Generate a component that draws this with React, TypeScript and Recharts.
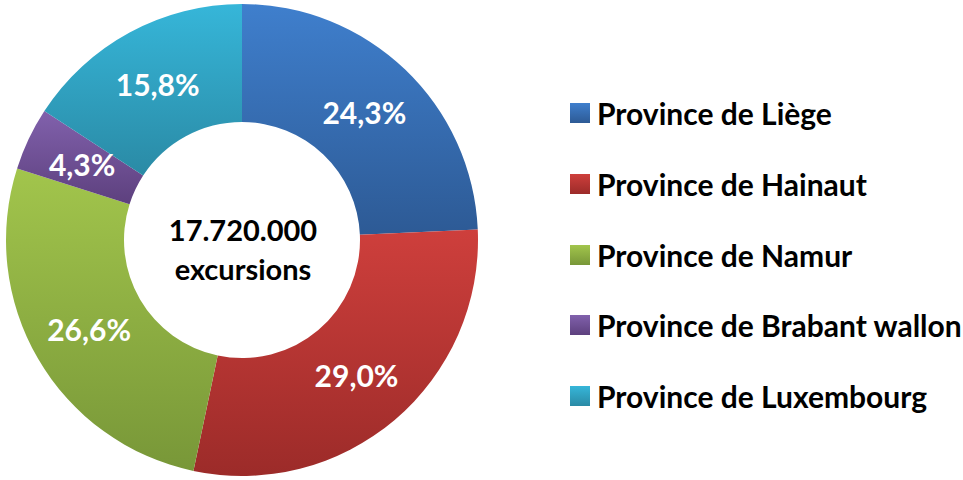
import React from 'react';
import { PieChart, Pie, Cell, Legend } from 'recharts';

const categories = [
  'Province de Liège',
  'Province de Hainaut',
  'Province de Namur',
  'Province de Brabant wallon',
  'Province de Luxembourg',
];
const shares = [24.3, 29.0, 26.6, 4.3, 15.8];
const labels = ['24,3%', '29,0%', '26,6%', '4,3%', '15,8%'];
const totalLine1 = '17.720.000';
const totalLine2 = 'excursions';

const topColors = ['#3F7FCD', '#CE3F3C', '#A2C54C', '#8161AC', '#36B6D9'];
const bottomColors = ['#2D5A95', '#9C2B29', '#789738', '#5D407E', '#2A8AA5'];

const data = categories.map((name, i) => ({ name, value: shares[i], label: labels[i] }));

const FONT = 'Lato, Carlito, Calibri, sans-serif';
const RAD = Math.PI / 180;

const renderLabel = (props: any) => {
  const { cx, cy, midAngle, innerRadius, outerRadius, index } = props;
  const r = (innerRadius + outerRadius) / 2;
  const x = cx + r * Math.cos(-midAngle * RAD);
  const y = cy + r * Math.sin(-midAngle * RAD);
  return (
    <text
      x={x}
      y={y}
      fill="#ffffff"
      textAnchor="middle"
      dominantBaseline="central"
      fontFamily={FONT}
      fontWeight={700}
      fontSize={30}
    >
      {data[index].label}
    </text>
  );
};

const renderLegend = () => (
  <div style={{ fontFamily: FONT, fontWeight: 700, fontSize: 30, color: '#000' }}>
    {data.map((d, i) => (
      <div key={d.name} style={{ display: 'flex', alignItems: 'center', height: 70.7, whiteSpace: 'nowrap' }}>
        <svg width={20} height={20} style={{ marginRight: 7, flex: 'none' }}>
          <defs>
            <linearGradient id={`lg-${i}`} x1="0" y1="0" x2="0" y2="1">
              <stop offset="0%" stopColor={topColors[i]} />
              <stop offset="100%" stopColor={bottomColors[i]} />
            </linearGradient>
          </defs>
          <rect x={0} y={0} width={20} height={20} fill={`url(#lg-${i})`} />
        </svg>
        <span>{d.name}</span>
      </div>
    ))}
  </div>
);

export default function App() {
  return (
    <div style={{ position: 'absolute', left: 0, top: 0, width: 963, height: 480, background: '#fff' }}>
      <PieChart width={963} height={480} margin={{ top: 0, right: 0, bottom: 0, left: 0 }}>
        <defs>
          {topColors.map((c, i) => (
            <linearGradient key={i} id={`grad-${i}`} x1="0" y1="0" x2="0" y2="1">
              <stop offset="0%" stopColor={c} />
              <stop offset="100%" stopColor={bottomColors[i]} />
            </linearGradient>
          ))}
        </defs>
        <Pie
          data={data}
          dataKey="value"
          nameKey="name"
          cx={242}
          cy={240}
          innerRadius={118}
          outerRadius={236}
          startAngle={90}
          endAngle={-270}
          stroke="none"
          isAnimationActive={false}
          labelLine={false}
          label={renderLabel}
        >
          {data.map((d, i) => (
            <Cell key={d.name} fill={`url(#grad-${i})`} />
          ))}
        </Pie>
        <text
          x={243}
          y={229}
          textAnchor="middle"
          dominantBaseline="central"
          fontFamily={FONT}
          fontWeight={700}
          fontSize={29}
          fill="#000"
        >
          {totalLine1}
        </text>
        <text
          x={243}
          y={268}
          textAnchor="middle"
          dominantBaseline="central"
          fontFamily={FONT}
          fontWeight={700}
          fontSize={29}
          fill="#000"
        >
          {totalLine2}
        </text>
        <Legend
          layout="vertical"
          verticalAlign="middle"
          align="right"
          content={renderLegend}
          wrapperStyle={{ left: 570, top: 78, width: 393, right: 'auto' }}
        />
      </PieChart>
    </div>
  );
}
